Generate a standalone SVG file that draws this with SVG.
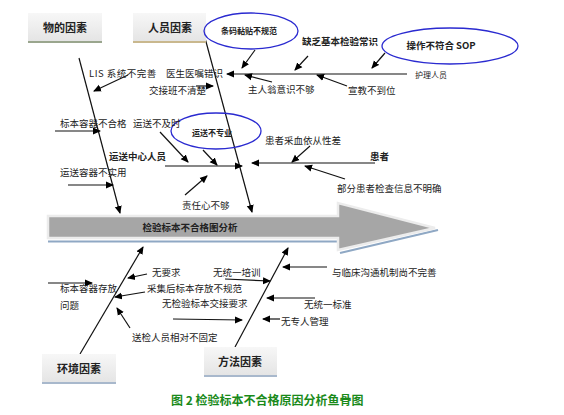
<svg xmlns="http://www.w3.org/2000/svg" width="564" height="415" viewBox="0 0 564 415">
<defs>
<marker id="ah" markerWidth="8" markerHeight="8" refX="7" refY="4" orient="auto" markerUnits="userSpaceOnUse">
<path d="M0,0.5 L8,4 L0,7.5 z" fill="#000"/>
</marker>
<linearGradient id="bg" x1="0" y1="0" x2="0" y2="1">
<stop offset="0" stop-color="#f7f7f7"/>
<stop offset="1" stop-color="#e4e4e4"/>
</linearGradient>
</defs>
<style>
text{font-family:"Noto Sans CJK SC","Noto Sans",sans-serif;fill:#222;font-size:9.5px}
.b{font-weight:bold}
.box{fill:url(#bg)}
.c{text-anchor:middle}
.t11{font-size:11px}
.t8{font-size:8px}
.t12{font-size:12px}
.ln{stroke:#111;stroke-width:1.2;fill:none;marker-end:url(#ah)}
.ell{fill:none;stroke:#2a2ad0;stroke-width:1.3}
</style>
<rect width="564" height="415" fill="#fff"/>

<g id="main-arrow">
<line x1="48" y1="241.5" x2="340" y2="241.5" stroke="#8fa8c4" stroke-width="2"/>
<line x1="340" y1="253" x2="438" y2="230" stroke="#8fa8c4" stroke-width="2"/>
<polygon points="48,216 338,216 338,203 435,228 338,250 338,238 48,238" fill="#a6a6a6" stroke="#ececec" stroke-width="2.5"/>
<text class="b c" x="190" y="231">检验标本不合格图分析</text>
</g>

<g id="connectors">
<line class="ln" x1="79" y1="58" x2="120" y2="213"/>
<line class="ln" x1="205" y1="38" x2="252" y2="212"/>
<line class="ln" x1="80" y1="354" x2="143" y2="247"/>
<line class="ln" x1="235" y1="347" x2="288" y2="248"/>
<line class="ln" x1="407" y1="74" x2="227" y2="74" stroke="#333" stroke-width="1.6"/>
<line class="ln" x1="165" y1="166" x2="242" y2="166"/>
<line class="ln" x1="375" y1="163" x2="252" y2="163"/>
<line class="ln" x1="255" y1="50" x2="242" y2="68"/>
<line class="ln" x1="308" y1="56" x2="295" y2="70"/>
<line class="ln" x1="385" y1="53" x2="372" y2="68"/>
<line class="ln" x1="272" y1="82" x2="245" y2="75"/>
<line class="ln" x1="347" y1="86" x2="317" y2="75"/>
<line class="ln" x1="128" y1="75" x2="94" y2="91"/>
<line class="ln" x1="196" y1="86" x2="213" y2="86"/>
<line class="ln" x1="55" y1="131" x2="100" y2="131"/>
<line class="ln" x1="160" y1="132" x2="188" y2="162"/>
<line class="ln" x1="203" y1="150" x2="217" y2="165"/>
<line class="ln" x1="185" y1="195" x2="207" y2="176"/>
<line class="ln" x1="68" y1="185" x2="113" y2="185"/>
<line class="ln" x1="310" y1="146" x2="292" y2="162"/>
<line class="ln" x1="345" y1="179" x2="305" y2="166"/>
<line class="ln" x1="147" y1="274" x2="128" y2="278"/>
<line class="ln" x1="48" y1="283" x2="92" y2="283"/>
<line class="ln" x1="145" y1="292" x2="115" y2="297"/>
<line class="ln" x1="173" y1="319" x2="242" y2="320"/>
<line class="ln" x1="130" y1="328" x2="117" y2="308"/>
<line class="ln" x1="225" y1="279" x2="270" y2="281"/>
<line class="ln" x1="327" y1="267" x2="283" y2="267"/>
<line class="ln" x1="315" y1="298" x2="267" y2="298"/>
<line class="ln" x1="280" y1="319" x2="263" y2="319"/>
</g>

<g id="material">
<rect class="box" x="28" y="13" width="74" height="29"/>
<line x1="28" y1="42" x2="102" y2="42" stroke="#9aa68e" stroke-width="2"/>
<text class="b c t11" x="65" y="32">物的因素</text>
</g>
<g id="personnel">
<rect class="box" x="133" y="13" width="73" height="29"/>
<line x1="133" y1="42" x2="206" y2="42" stroke="#c9b88e" stroke-width="2"/>
<text class="b c t11" x="170" y="32">人员因素</text>
</g>
<g id="environment">
<rect class="box" x="42" y="354" width="74" height="29"/>
<line x1="42" y1="383" x2="116" y2="383" stroke="#a8b8cc" stroke-width="2"/>
<text class="b c t11" x="79" y="373">环境因素</text>
</g>
<g id="method">
<rect class="box" x="204" y="347" width="73" height="29"/>
<line x1="204" y1="376" x2="277" y2="376" stroke="#a8b8cc" stroke-width="2"/>
<text class="b c t11" x="240" y="366">方法因素</text>
</g>

<g id="ellipse-barcode">
<ellipse class="ell" cx="251" cy="31" rx="47" ry="18"/>
<text class="b c t8" x="249" y="34">条码黏贴不规范</text>
</g>
<g id="ellipse-sop">
<ellipse class="ell" cx="450" cy="46" rx="68" ry="18"/>
<text class="b c" x="441" y="49">操作不符合 SOP</text>
</g>
<g id="ellipse-transport">
<ellipse class="ell" cx="216" cy="131" rx="45" ry="18"/>
<text class="b c t8" x="212" y="136">运送不专业</text>
</g>

<g id="labels">
<text class="b" x="302" y="45">缺乏基本检验常识</text>
<text x="89" y="77" letter-spacing="0.5">LIS 系统不完善</text>
<text x="166" y="77">医生医嘱错识</text>
<text class="t8" x="415" y="78">护理人员</text>
<text x="149" y="94">交接班不清楚</text>
<text x="248" y="93">主人翁意识不够</text>
<text x="348" y="94">宣教不到位</text>
<text x="60" y="127">标本容器不合格</text>
<text x="133" y="127">运送不及时</text>
<text class="b" x="109" y="160">运送中心人员</text>
<text x="265" y="144">患者采血依从性差</text>
<text class="b" x="370" y="160">患者</text>
<text x="60" y="176">运送容器不实用</text>
<text x="337" y="192">部分患者检查信息不明确</text>
<text x="182" y="209">责任心不够</text>
<text x="152" y="276">无要求</text>
<text x="213" y="276">无统一培训</text>
<text x="332" y="276">与临床沟通机制尚不完善</text>
<text x="60" y="292">标本容器存放</text>
<text x="147" y="292">采集后标本存放不规范</text>
<text x="60" y="309">问题</text>
<text x="162" y="307">无检验标本交接要求</text>
<text x="304" y="308">无统一标准</text>
<text x="281" y="325">无专人管理</text>
<text x="132" y="341">送检人员相对不固定</text>
</g>

<g id="caption">
<text class="b t12" x="171" y="405" style="fill:#1a8a1a">图 2 检验标本不合格原因分析鱼骨图</text>
</g>
</svg>
